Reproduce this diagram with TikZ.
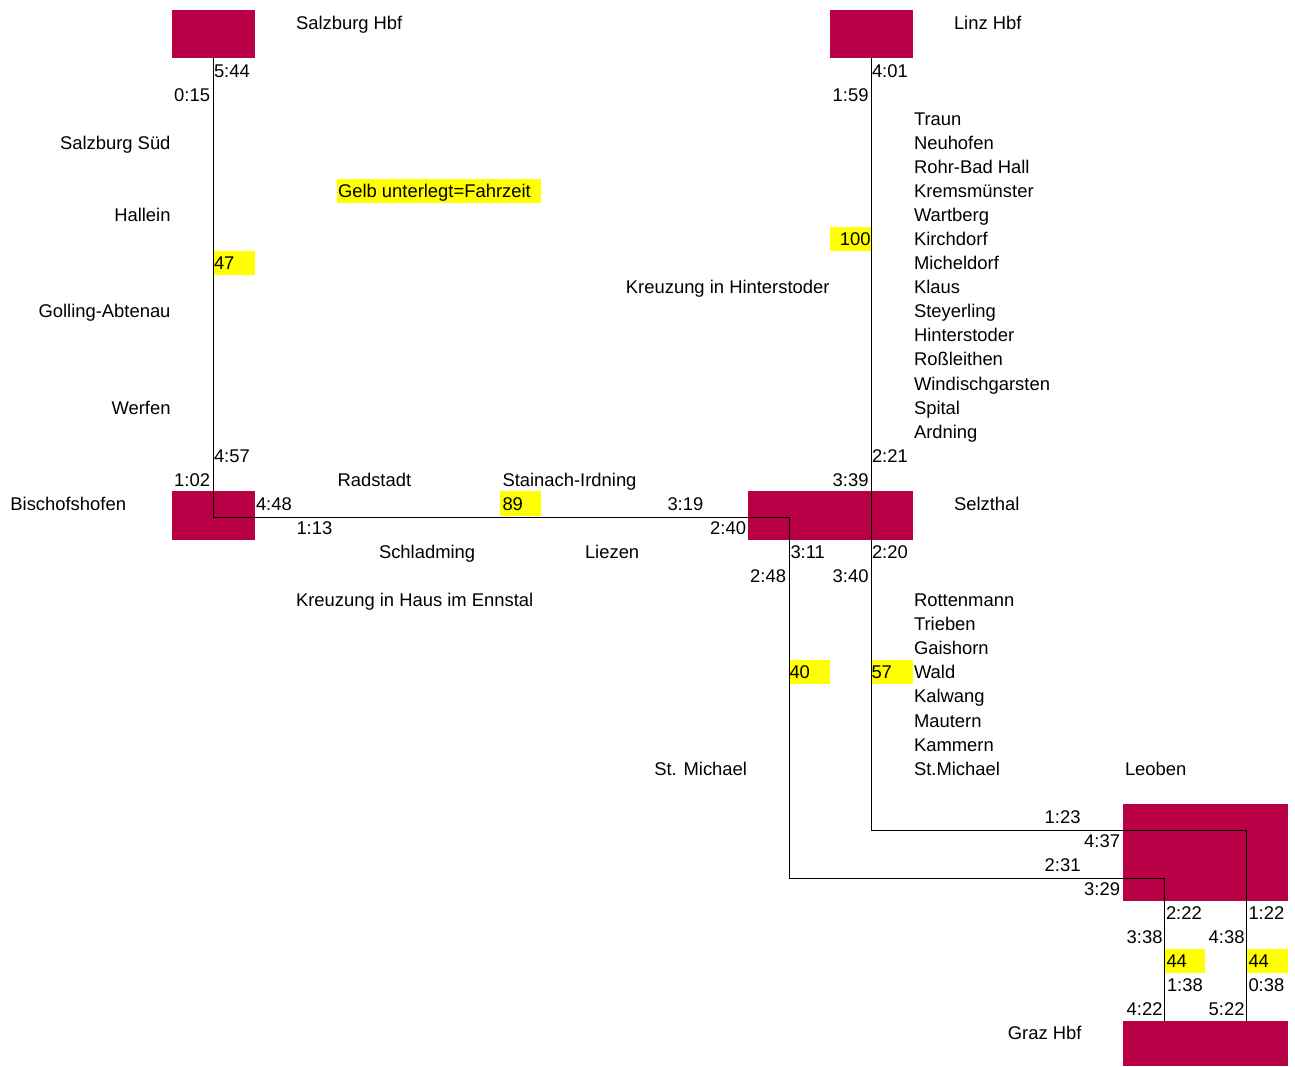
\documentclass[tikz,border=0pt]{standalone}
\usepackage{fontspec}
\setmainfont{Liberation Sans}
\definecolor{stationred}{HTML}{B80046}
\definecolor{hlyellow}{HTML}{FFFF00}
\tikzset{
  stationbox/.style={fill=stationred, draw=none, inner sep=0pt, outer sep=0pt, anchor=north west},
  hlbox/.style={fill=hlyellow, draw=none, inner sep=0pt, outer sep=0pt, anchor=north west},
  lbl/.style={inner sep=0pt, outer sep=0pt, anchor=base west, font=\fontsize{18.4}{22}\selectfont},
  rlbl/.style={inner sep=0pt, outer sep=0pt, anchor=base east, font=\fontsize{18.4}{22}\selectfont},
  route/.style={draw=black, line width=0.9pt}
}
\begin{document}
\begin{tikzpicture}[x=1pt,y=-1pt]
\useasboundingbox (0,0) rectangle (1295,1066);
\fill[white] (0,0) rectangle (1295,1066);

% station boxes
\node[stationbox, minimum width=83pt, minimum height=48pt] (sbg) at (172,10) {};
\node[stationbox, minimum width=83pt, minimum height=48pt] (linz) at (830,10) {};
\node[stationbox, minimum width=83pt, minimum height=48.1pt] (bhf) at (172,491.4) {};
\node[stationbox, minimum width=165pt, minimum height=48.1pt] (selz) at (748,491.4) {};
\node[stationbox, minimum width=165pt, minimum height=96.3pt] (leob) at (1123,804.3) {};
\node[stationbox, minimum width=165pt, minimum height=45pt] (graz) at (1123,1021) {};

% yellow highlight boxes
\node[hlbox, minimum width=204pt, minimum height=24.5pt] (hgelb) at (337,178.5) {};
\node[hlbox, minimum width=42pt, minimum height=24.1pt] (h47) at (213,250.7) {};
\node[hlbox, minimum width=41pt, minimum height=24.1pt] (h100) at (830,226.6) {};
\node[hlbox, minimum width=41pt, minimum height=24.1pt] (h89) at (500,491.4) {};
\node[hlbox, minimum width=41pt, minimum height=24.1pt] (h40) at (789,659.9) {};
\node[hlbox, minimum width=42pt, minimum height=24.1pt] (h57) at (871,659.9) {};
\node[hlbox, minimum width=41pt, minimum height=24.1pt] (h44a) at (1164,948.7) {};
\node[hlbox, minimum width=42pt, minimum height=24.1pt] (h44b) at (1246,948.7) {};

% routes
\coordinate (t2) at (789,517);
\coordinate (t4) at (1164,878);
\coordinate (u1) at (1246,830);
\draw[route] (sbg.south) |- (t2) |- (t4) -- (t4 |- graz.north);
\draw[route] (linz.south) |- (u1) -- (u1 |- graz.north);

% station names
\node[lbl] (nsbg) at (296,29) {Salzburg Hbf};
\node[lbl] (nlinz) at (954,29) {Linz Hbf};
\node[rlbl] (nbhf) at (126,510.4) {Bischofshofen};
\node[lbl] (nselz) at (954,510.4) {Selzthal};
\node[lbl] (nleob) at (1125,775.2) {Leoben};
\node[rlbl] (ngraz) at (1081.5,1039.9) {Graz Hbf};

% left line stations
\node[rlbl] (s1) at (170.5,149.4) {Salzburg Süd};
\node[rlbl] (s2) at (170.5,221.6) {Hallein};
\node[rlbl] (s3) at (170.5,317.8) {Golling-Abtenau};
\node[rlbl] (s4) at (170.5,414.1) {Werfen};

% Linz line stations
\foreach \n [count=\i from 4] in {Traun,Neuhofen,Rohr-Bad Hall,Kremsmünster,Wartberg,Kirchdorf,Micheldorf,Klaus,Steyerling,Hinterstoder,Roßleithen,Windischgarsten,Spital,Ardning}
  \node[lbl] (lz\i) at (914,{29+24.07*\i}) {\n};
\foreach \n [count=\i from 24] in {Rottenmann,Trieben,Gaishorn,Wald,Kalwang,Mautern,Kammern,St.Michael}
  \node[lbl] (lb\i) at (914,{29+24.07*\i}) {\n};

% Enns valley stations
\node[lbl] (e1) at (337.5,486.3) {Radstadt};
\node[lbl] (e2) at (502.5,486.3) {Stainach-Irdning};
\node[lbl] (e3) at (379,558.5) {Schladming};
\node[lbl] (e4) at (585,558.5) {Liezen};
\node[lbl] (kr1) at (296,606.7) {Kreuzung in Haus im Ennstal};
\node[rlbl] (kr2) at (829.5,293.8) {Kreuzung in Hinterstoder};
\node[rlbl] (sm) at (747,775.2) {St. Michael};

% legend and travel times
\node[lbl] (gelb) at (338,197.5) {Gelb unterlegt=Fahrzeit};
\node[lbl] (f47) at (214,269.7) {47};
\node[rlbl] (f100) at (870.5,245.6) {100};
\node[lbl] (f89) at (502.5,510.4) {89};
\node[lbl] (f40) at (789.5,678.9) {40};
\node[lbl] (f57) at (871.5,678.9) {57};
\node[lbl] (f44a) at (1166.5,967.7) {44};
\node[lbl] (f44b) at (1248.5,967.7) {44};

% times
\node[lbl] (a1) at (214,77.1) {5:44};
\node[rlbl] (a2) at (210,101.2) {0:15};
\node[lbl] (a3) at (872,77.1) {4:01};
\node[rlbl] (a4) at (868.5,101.2) {1:59};
\node[lbl] (a5) at (214,462.3) {4:57};
\node[rlbl] (a6) at (210,486.3) {1:02};
\node[lbl] (a7) at (872,462.3) {2:21};
\node[rlbl] (a8) at (868.5,486.3) {3:39};
\node[lbl] (a9) at (256,510.4) {4:48};
\node[lbl] (a10) at (296.5,534.5) {1:13};
\node[lbl] (a11) at (667.5,510.4) {3:19};
\node[rlbl] (a12) at (746,534.5) {2:40};
\node[lbl] (a13) at (790.5,558.5) {3:11};
\node[lbl] (a14) at (872,558.5) {2:20};
\node[rlbl] (a15) at (786,582.6) {2:48};
\node[rlbl] (a16) at (868.5,582.6) {3:40};
\node[rlbl] (a17) at (1080.5,823.3) {1:23};
\node[rlbl] (a18) at (1120,847.4) {4:37};
\node[rlbl] (a19) at (1080.5,871.5) {2:31};
\node[rlbl] (a20) at (1120,895.5) {3:29};
\node[lbl] (a21) at (1166,919.6) {2:22};
\node[lbl] (a22) at (1248.5,919.6) {1:22};
\node[rlbl] (a23) at (1162.5,943.7) {3:38};
\node[rlbl] (a24) at (1244.5,943.7) {4:38};
\node[lbl] (a25) at (1167,991.8) {1:38};
\node[lbl] (a26) at (1248.5,991.8) {0:38};
\node[rlbl] (a27) at (1162.5,1015.9) {4:22};
\node[rlbl] (a28) at (1244.5,1015.9) {5:22};
\end{tikzpicture}
\end{document}
